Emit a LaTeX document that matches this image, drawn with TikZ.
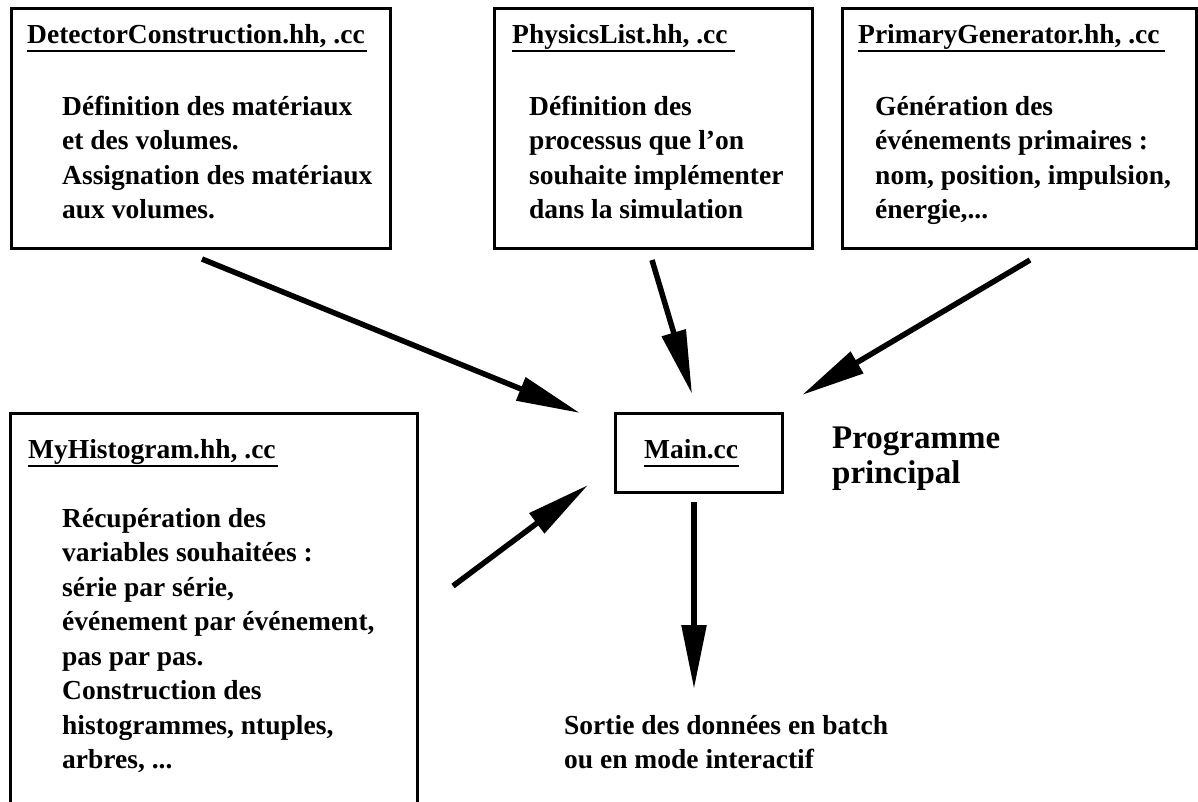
\documentclass[tikz,border=0pt]{standalone}
\usepackage{fontspec}
\setmainfont{Liberation Serif}
\usetikzlibrary{arrows.meta}
\tikzset{
  box/.style={draw, line width=3pt, inner sep=0pt, outer sep=0pt},
  ttl/.style={anchor=base west, inner sep=0pt, font=\fontsize{27.5}{34.5}\selectfont\bfseries},
  bodytext/.style={anchor=base west, inner sep=0pt, align=left, font=\fontsize{27.5}{34.5}\selectfont\bfseries},
  bigtext/.style={anchor=base west, inner sep=0pt, align=left, font=\fontsize{33}{35}\selectfont\bfseries},
  uline/.style={line width=2pt},
  arr/.style={line width=5.5pt, line cap=butt, -{Triangle[length=64pt,width=24pt]}}
}
\begin{document}
\begin{tikzpicture}[x=1pt,y=-1pt]
\useasboundingbox (0,0) rectangle (1198,801);
% boxes
\node[box, minimum width=379pt, minimum height=239.5pt] (dcbox) at (201,128.25) {};
\node[box, minimum width=318pt, minimum height=239.5pt] (plbox) at (653,128.25) {};
\node[box, minimum width=354.5pt, minimum height=239.5pt] (pgbox) at (1019.25,128.25) {};
\draw[line width=3pt] (10.5,810) -- (10.5,413.5) -- (417.5,413.5) -- (417.5,810);
\node[box, minimum width=167pt, minimum height=79pt] (mainbox) at (698.5,452.5) {};
% titles
\node[ttl] (dct) at (27,43) {DetectorConstruction.hh, .cc};
\draw[uline] ([yshift=-8pt]dct.base west) -- ([yshift=-8pt,xshift=2pt]dct.base east);
\node[ttl] (plt) at (512,43) {PhysicsList.hh, .cc};
\draw[uline] ([yshift=-8pt]plt.base west) -- ([yshift=-8pt,xshift=7pt]plt.base east);
\node[ttl] (pgt) at (858,43) {PrimaryGenerator.hh, .cc};
\draw[uline] ([yshift=-8pt]pgt.base west) -- ([yshift=-8pt,xshift=5pt]pgt.base east);
\node[ttl] (mht) at (28,458) {MyHistogram.hh, .cc};
\draw[uline] ([yshift=-8pt]mht.base west) -- ([yshift=-8pt,xshift=2pt]mht.base east);
\node[ttl] (mct) at (644,458) {Main.cc};
\draw[uline] ([yshift=-8pt]mct.base west) -- ([yshift=-8pt,xshift=1pt]mct.base east);
% body texts (anchored at the baseline of their last line)
\node[bodytext] (dcb) at (62,218.5) {Définition des matériaux\\et des volumes.\\Assignation des matériaux\\aux volumes.};
\node[bodytext] (plb) at (529,218.5) {Définition des\\processus que l’on\\souhaite implémenter\\dans la simulation};
\node[bodytext] (pgb) at (875,218.5) {Génération des\\événements primaires :\\nom, position, impulsion,\\énergie,...};
\node[bodytext] (mhb) at (62,768.5) {Récupération des\\variables souhaitées :\\série par série,\\événement par événement,\\pas par pas.\\Construction des\\histogrammes, ntuples,\\arbres, ...};
\node[bigtext] (prog) at (832,483) {Programme\\principal};
\node[bodytext] (out) at (564,768.5) {Sortie des données en batch\\ou en mode interactif};
% arrow endpoints
\coordinate (a1s) at (202,259);
\coordinate (a1e) at (580,413);
\coordinate (a2s) at (652,260);
\coordinate (a2e) at (692,394);
\coordinate (a3s) at (1030,260);
\coordinate (a3e) at (802,395);
\coordinate (a4s) at (453,586);
\coordinate (a4e) at (588,485);
\coordinate (a5s) at (694,502);
\coordinate (a5e) at (694,689);
\draw[arr] (a1s) -- (a1e);
\draw[arr] (a2s) -- (a2e);
\draw[arr] (a3s) -- (a3e);
\draw[arr] (a4s) -- (a4e);
\draw[arr] (a5s) -- (a5e);
\end{tikzpicture}
\end{document}
